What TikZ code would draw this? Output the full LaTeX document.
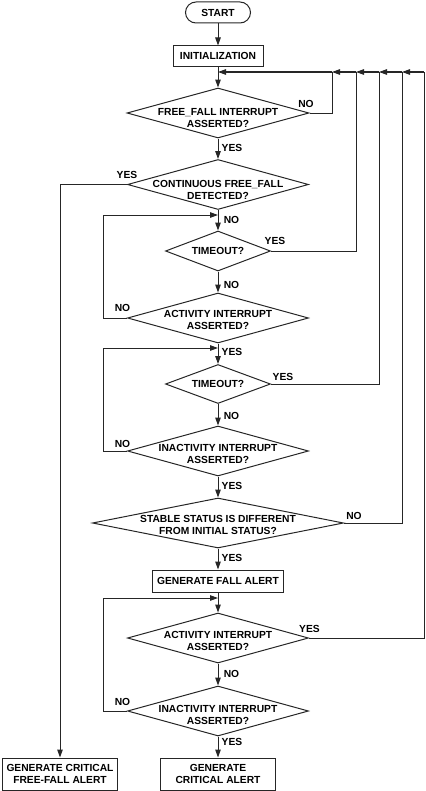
\documentclass[tikz,border=0pt]{standalone}
\usepackage{fontspec}
\setmainfont{Liberation Sans}
\usetikzlibrary{shapes.geometric,arrows.meta}

\tikzset{
    flowline/.style={line width=1bp, draw=black!85},
    arrow/.style={flowline, -{Triangle[length=8bp,width=5.5bp]}},
    procbox/.style={draw=black!85, line width=1bp, align=center, inner sep=1bp,
        font=\fontsize{10.3}{12}\selectfont\bfseries},
    decision/.style={diamond, draw=black!85, line width=1bp, align=center,
        inner xsep=-80bp, inner ysep=-14bp,
        font=\fontsize{10.3}{12}\selectfont\bfseries},
    answer/.style={inner sep=0pt, font=\fontsize{10.3}{12}\selectfont\bfseries}
}

\begin{document}
\begin{tikzpicture}[x=1bp,y=-1bp]
            \useasboundingbox (0,0) rectangle (425,791);
            % Draw the boxes and decisions down the main line
            \node[procbox, rounded corners=10.5bp, minimum width=65bp, minimum height=21bp] (start) at (218,12.5) {START};
            \node[procbox, minimum width=90bp, minimum height=20bp] (init) at (218,56) {INITIALIZATION};
            \node[decision, minimum width=182bp, minimum height=50bp, text height=29.4bp] (freefall) at (218,113) {FREE\_FALL INTERRUPT\\ASSERTED?};
            \node[decision, minimum width=181bp, minimum height=50bp, text height=29.4bp] (contff) at (218,184.5) {CONTINUOUS FREE\_FALL\\DETECTED?};
            \node[decision, minimum width=105bp, minimum height=40bp] (timeoutA) at (218,251) {TIMEOUT?};
            \node[decision, minimum width=181bp, minimum height=50bp, text height=22.4bp] (activityA) at (218,318) {ACTIVITY INTERRUPT\\ASSERTED?};
            \node[decision, minimum width=105bp, minimum height=39bp] (timeoutB) at (218,384) {TIMEOUT?};
            \node[decision, minimum width=181bp, minimum height=50bp, text height=25.4bp] (inactivityA) at (218,451) {INACTIVITY INTERRUPT\\ASSERTED?};
            \node[decision, minimum width=251bp, minimum height=50bp, text height=23.4bp] (stable) at (218,523) {STABLE STATUS IS DIFFERENT\\FROM INITIAL STATUS?};
            \node[procbox, minimum width=131bp, minimum height=22bp] (fallalert) at (218,581) {GENERATE FALL ALERT};
            \node[decision, minimum width=181bp, minimum height=50bp, text height=24.4bp] (activityB) at (218,638) {ACTIVITY INTERRUPT\\ASSERTED?};
            \node[decision, minimum width=181bp, minimum height=50bp, text height=26.4bp] (inactivityB) at (218,711) {INACTIVITY INTERRUPT\\ASSERTED?};
            \node[procbox, minimum width=114bp, minimum height=32bp] (critff) at (60,774) {GENERATE CRITICAL\\FREE-FALL ALERT};
            \node[procbox, minimum width=115bp, minimum height=32bp] (critalert) at (218,774) {GENERATE\\CRITICAL ALERT};

            % Junctions on the return line at the top
            \coordinate (topmain) at (218,72);
            \coordinate (topA) at (332,72);
            \coordinate (topB) at (356,72);
            \coordinate (topC) at (379,72);
            \coordinate (topD) at (402,72);
            \coordinate (topE) at (424,72);
            % Junctions of the inner loops
            \coordinate (loopA) at (218,215);
            \coordinate (loopB) at (218,348);
            \coordinate (loopC) at (218,598);

            % Main line
            \draw[arrow] (start) -- (init);
            \draw[arrow] (init) -- (freefall);
            \draw[arrow] (freefall) -- (contff);
            \draw[arrow] (contff) -- (timeoutA);
            \draw[arrow] (timeoutA) -- (activityA);
            \draw[arrow] (activityA) -- (timeoutB);
            \draw[arrow] (timeoutB) -- (inactivityA);
            \draw[arrow] (inactivityA) -- (stable);
            \draw[arrow] (stable) -- (fallalert);
            \draw[arrow] (fallalert) -- (activityB);
            \draw[arrow] (activityB) -- (inactivityB);
            \draw[arrow] (inactivityB) -- (critalert);
            \draw[arrow] (contff.west) -| (critff.north);

            % Return line at the top
            \draw[flowline] (freefall.east) -| (topA);
            \draw[flowline] (timeoutA.east) -| (topB);
            \draw[flowline] (timeoutB.east) -| (topC);
            \draw[flowline] (stable.east) -| (topD);
            \draw[flowline] (activityB.east) -| (topE);
            \draw[arrow] (topE) -- (topD);
            \draw[arrow] (topD) -- (topC);
            \draw[arrow] (topC) -- (topB);
            \draw[arrow] (topB) -- (topA);
            \draw[arrow] (topA) -- (topmain);

            % Inner loops on the left
            \draw[arrow] (activityA.west) -- ++(-24,0) |- (loopA);
            \draw[arrow] (inactivityA.west) -- ++(-24,0) |- (loopB);
            \draw[arrow] (inactivityB.west) -- ++(-24,0) |- (loopC);

            % YES / NO labels
            \node[answer] (ffno) at (306,103.5) {NO};
            \node[answer] (ffyes) at (232,148) {YES};
            \node[answer] (cffyes) at (127,175) {YES};
            \node[answer] (cffno) at (231.5,219.5) {NO};
            \node[answer] (toAyes) at (275,241) {YES};
            \node[answer] (toAno) at (231.5,284.5) {NO};
            \node[answer] (actAno) at (122.5,308) {NO};
            \node[answer] (actAyes) at (232,351.5) {YES};
            \node[answer] (toByes) at (283,377) {YES};
            \node[answer] (toBno) at (231.5,416) {NO};
            \node[answer] (inactAno) at (122.5,443.5) {NO};
            \node[answer] (inactAyes) at (232,486) {YES};
            \node[answer] (stno) at (354,516) {NO};
            \node[answer] (styes) at (232,557.5) {YES};
            \node[answer] (actByes) at (309.5,628.5) {YES};
            \node[answer] (actBno) at (231.5,673.5) {NO};
            \node[answer] (inactBno) at (122.5,702) {NO};
            \node[answer] (inactByes) at (232,742) {YES};

        \end{tikzpicture}
\end{document}
